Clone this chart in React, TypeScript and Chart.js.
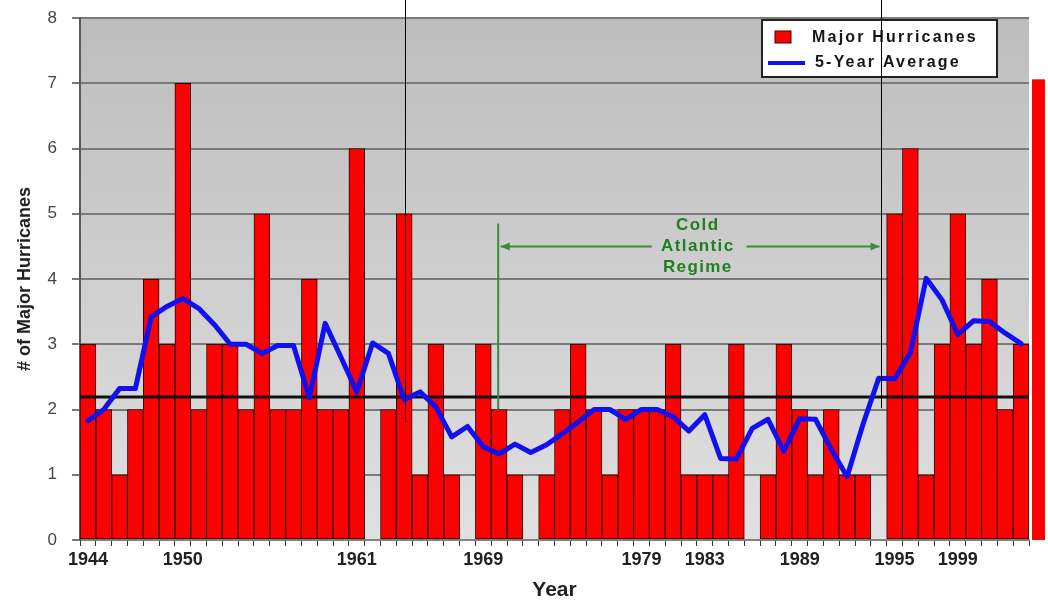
import React, { useEffect, useRef } from 'react';
import { Chart, registerables } from 'chart.js';

Chart.register(...registerables);

const years = [
  '1944', '1945', '1946', '1947', '1948', '1949', '1950', '1951', '1952', '1953',
  '1954', '1955', '1956', '1957', '1958', '1959', '1960', '1961', '1962', '1963',
  '1964', '1965', '1966', '1967', '1968', '1969', '1970', '1971', '1972', '1973',
  '1974', '1975', '1976', '1977', '1978', '1979', '1980', '1981', '1982', '1983',
  '1984', '1985', '1986', '1987', '1988', '1989', '1990', '1991', '1992', '1993',
  '1994', '1995', '1996', '1997', '1998', '1999', '2000', '2001', '2002', '2003',
];

const majorHurricanes = [
  3, 2, 1, 2, 4, 3, 7, 2, 3, 3,
  2, 5, 2, 2, 4, 2, 2, 6, 0, 2,
  5, 1, 3, 1, 0, 3, 2, 1, 0, 1,
  2, 3, 2, 1, 2, 2, 2, 3, 1, 1,
  1, 3, 0, 1, 3, 2, 1, 2, 1, 1,
  0, 5, 6, 1, 3, 5, 3, 4, 2, 3,
];

const fiveYearAverage = [
  1.83, 2.0, 2.32, 2.32, 3.42, 3.58, 3.7, 3.55, 3.3, 3.0,
  3.0, 2.86, 2.98, 2.98, 2.18, 3.32, 2.8, 2.27, 3.02, 2.86,
  2.15, 2.27, 2.04, 1.58, 1.74, 1.43, 1.32, 1.47, 1.34, 1.46,
  1.63, 1.81, 2.0, 2.0, 1.85, 2.0, 2.0, 1.89, 1.67, 1.92,
  1.25, 1.24, 1.71, 1.85, 1.36, 1.86, 1.85, 1.39, 0.97, 1.77,
  2.48, 2.47, 2.87, 4.01, 3.68, 3.15, 3.36, 3.35, 3.17, 3.01,
];

const shownYearLabels = ['1944', '1950', '1961', '1969', '1979', '1983', '1989', '1995', '1999'];

const longTermAverage = 2.19;
const regimeText = ['Cold', 'Atlantic', 'Regime'];
const legendLabels = ['Major Hurricanes', '5-Year Average'];

const FONT = '"Liberation Sans", Arial, Helvetica, sans-serif';
const RED = '#ff0000';
const BLUE = '#1010f0';
const GREEN_TEXT = '#1f7f1f';
const GREEN_LINE = '#3a8c3a';

const annotationPlugin = {
  id: 'annotations',
  beforeDraw(chart: any) {
    const { ctx, chartArea: ca } = chart;
    ctx.save();
    ctx.fillStyle = '#ffffff';
    ctx.fillRect(0, 0, chart.width, chart.height);
    const g = ctx.createLinearGradient(0, ca.top, 0, ca.bottom);
    g.addColorStop(0, '#bdbdbd');
    g.addColorStop(1, '#e0e0e0');
    ctx.fillStyle = g;
    ctx.fillRect(ca.left, ca.top, ca.right - ca.left, ca.bottom - ca.top);
    ctx.restore();
  },
  afterDatasetDraw(chart: any, args: any) {
    if (args.index !== 0) return;
    const { ctx, chartArea: ca } = chart;
    const y = chart.scales.y.getPixelForValue(longTermAverage);
    ctx.save();
    ctx.strokeStyle = '#111111';
    ctx.lineWidth = 3;
    ctx.beginPath();
    ctx.moveTo(ca.left, y);
    ctx.lineTo(ca.right, y);
    ctx.stroke();
    ctx.restore();
  },
  afterDraw(chart: any) {
    const { ctx, chartArea: ca } = chart;
    const xs = chart.scales.x;
    const ys = chart.scales.y;
    const n = years.length;
    const ux = (u: number) => xs.getPixelForDecimal(u / n);
    const vy = (v: number) => ys.getPixelForValue(v);

    ctx.save();

    // right-side red strip
    ctx.fillStyle = RED;
    ctx.fillRect(ca.right + 3, vy(7.06), 13, ca.bottom - vy(7.06));

    // legend
    const lx = ca.right - 267;
    const ly = ca.top + 2;
    ctx.fillStyle = '#ffffff';
    ctx.fillRect(lx, ly, 235, 57);
    ctx.strokeStyle = '#222222';
    ctx.lineWidth = 2;
    ctx.strokeRect(lx, ly, 235, 57);
    ctx.fillStyle = RED;
    ctx.fillRect(lx + 13, ly + 11, 16, 12);
    ctx.strokeStyle = '#400000';
    ctx.lineWidth = 1;
    ctx.strokeRect(lx + 13, ly + 11, 16, 12);
    ctx.strokeStyle = BLUE;
    ctx.lineWidth = 4;
    ctx.beginPath();
    ctx.moveTo(lx + 6, ly + 43);
    ctx.lineTo(lx + 43, ly + 43);
    ctx.stroke();
    ctx.fillStyle = '#151515';
    ctx.font = `bold 16px ${FONT}`;
    ctx.textBaseline = 'middle';
    ctx.textAlign = 'left';
    (ctx as any).letterSpacing = '2.2px';
    ctx.fillText(legendLabels[0], lx + 50, ly + 18);
    ctx.fillText(legendLabels[1], lx + 53, ly + 43);
    (ctx as any).letterSpacing = '0px';

    // green regime annotation
    ctx.strokeStyle = GREEN_LINE;
    ctx.fillStyle = GREEN_LINE;
    ctx.lineWidth = 2;
    ctx.beginPath();
    ctx.moveTo(ux(26.44), vy(4.85));
    ctx.lineTo(ux(26.44), vy(2.0));
    ctx.stroke();
    const ay = vy(4.5);
    ctx.beginPath();
    ctx.moveTo(ux(26.6), ay);
    ctx.lineTo(ux(36.15), ay);
    ctx.moveTo(ux(42.14), ay);
    ctx.lineTo(ux(50.55), ay);
    ctx.stroke();
    const arrow = (x: number, dir: number) => {
      ctx.beginPath();
      ctx.moveTo(x, ay);
      ctx.lineTo(x - dir * 9, ay - 4);
      ctx.lineTo(x - dir * 9, ay + 4);
      ctx.closePath();
      ctx.fill();
    };
    arrow(ux(26.6), -1);
    arrow(ux(50.55), 1);

    ctx.fillStyle = GREEN_TEXT;
    ctx.font = `bold 17px ${FONT}`;
    ctx.textAlign = 'center';
    (ctx as any).letterSpacing = '1.4px';
    const tx = ux(39.06);
    ctx.fillText(regimeText[0], tx, vy(4.83));
    ctx.fillText(regimeText[1], tx, vy(4.5));
    ctx.fillText(regimeText[2], tx, vy(4.18));
    (ctx as any).letterSpacing = '0px';

    // thin black vertical markers
    ctx.strokeStyle = '#000000';
    ctx.lineWidth = 1;
    ctx.beginPath();
    ctx.moveTo(Math.round(ux(20.55)) + 0.5, 0);
    ctx.lineTo(Math.round(ux(20.55)) + 0.5, vy(1.79));
    ctx.moveTo(Math.round(ux(50.66)) + 0.5, 0);
    ctx.lineTo(Math.round(ux(50.66)) + 0.5, vy(2.02));
    ctx.stroke();

    ctx.restore();
  },
};

export default function App() {
  const canvasRef = useRef<HTMLCanvasElement | null>(null);

  useEffect(() => {
    document.body.style.margin = '0';
    const canvas = canvasRef.current;
    if (!canvas) return;
    const chart = new Chart(canvas, {
      type: 'bar',
      data: {
        labels: years,
        datasets: [
          {
            type: 'bar',
            label: legendLabels[0],
            data: majorHurricanes,
            backgroundColor: RED,
            borderColor: '#2a0000',
            borderWidth: 1,
            borderSkipped: false,
            barPercentage: 1,
            categoryPercentage: 1,
            order: 1,
          } as any,
          {
            type: 'line',
            label: legendLabels[1],
            data: fiveYearAverage,
            borderColor: BLUE,
            borderWidth: 5,
            pointRadius: 0,
            tension: 0,
            borderJoinStyle: 'round',
            borderCapStyle: 'round',
            fill: false,
            order: 0,
          } as any,
        ],
      },
      options: {
        responsive: false,
        animation: false,
        devicePixelRatio: 1,
        layout: { padding: { left: 0, top: 18, right: 19, bottom: 0 } },
        plugins: {
          legend: { display: false },
          tooltip: { enabled: false },
          title: { display: false },
        },
        scales: {
          x: {
            type: 'category',
            offset: true,
            grid: {
              display: true,
              drawOnChartArea: false,
              drawTicks: true,
              tickLength: 6,
              offset: true,
              color: '#333333',
              lineWidth: 1,
            },
            border: { display: true, color: '#808080', width: 2 },
            ticks: {
              autoSkip: false,
              maxRotation: 0,
              minRotation: 0,
              padding: 3,
              color: '#222222',
              font: { family: FONT, size: 18, weight: 'bold' },
              callback: (_v: any, i: number) => (shownYearLabels.includes(years[i]) ? years[i] : ''),
            },
            title: {
              display: true,
              text: 'Year',
              color: '#222222',
              font: { family: FONT, size: 21, weight: 'bold' },
              padding: { top: 0, bottom: 1 },
            },
            afterFit: (s: any) => {
              s.height = 64;
              s.paddingLeft = 0;
              s.paddingRight = 0;
            },
          },
          y: {
            min: 0,
            max: 8,
            ticks: {
              stepSize: 1,
              padding: 15,
              color: '#444444',
              font: { family: FONT, size: 17 },
            },
            grid: {
              color: '#7a7a7a',
              lineWidth: 2,
              tickLength: 8,
              drawTicks: true,
            },
            border: { display: true, color: '#5a5a5a', width: 2 },
            title: {
              display: true,
              text: '# of Major Hurricanes',
              color: '#222222',
              font: { family: FONT, size: 18, weight: 'bold' },
              padding: { top: 14, bottom: 0 },
            },
            afterFit: (s: any) => {
              s.width = 80;
              s.paddingTop = 0;
              s.paddingBottom = 0;
            },
          },
        },
      } as any,
      plugins: [annotationPlugin],
    });
    return () => chart.destroy();
  }, []);

  return (
    <div style={{ position: 'absolute', left: 0, top: 0, width: 1048, height: 604, background: '#ffffff' }}>
      <canvas ref={canvasRef} width={1048} height={604} style={{ display: 'block', width: 1048, height: 604 }} />
    </div>
  );
}
